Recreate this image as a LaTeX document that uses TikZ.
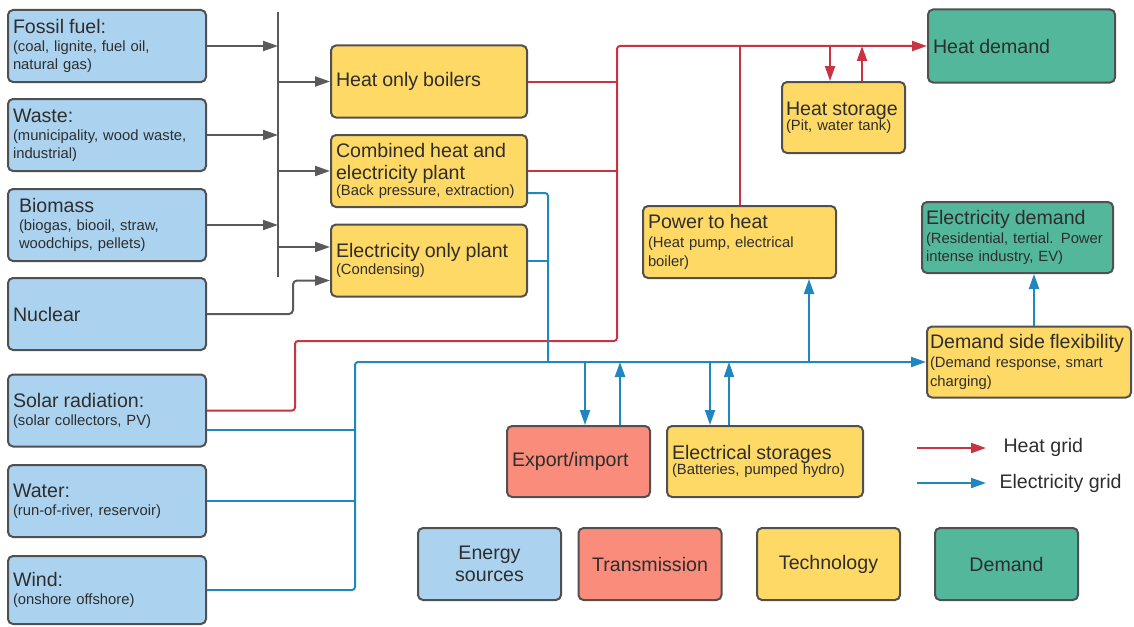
\documentclass[tikz,border=0pt]{standalone}
\usepackage{fontspec}
\setmainfont{Liberation Sans}
\usetikzlibrary{arrows.meta}
\definecolor{srcfill}{HTML}{ABD3EF}
\definecolor{techfill}{HTML}{FFD966}
\definecolor{transfill}{HTML}{F98C7B}
\definecolor{demfill}{HTML}{52B79B}
\definecolor{edge}{HTML}{505050}
\definecolor{ink}{HTML}{2E2E2E}
\definecolor{heatred}{HTML}{C73443}
\definecolor{elecblue}{HTML}{1F87BE}
\definecolor{feedgray}{HTML}{5A5A5A}
\newcommand{\hd}{\fontsize{19.6}{22}\selectfont}
\newcommand{\sm}{\fontsize{14.8}{18}\selectfont}
\begin{document}
\begin{tikzpicture}[x=1pt,y=-1pt,
  box/.style={draw=edge, line width=2pt, rounded corners=5pt, inner xsep=5pt, inner ysep=2pt, align=left, text=ink, font=\sm, minimum height=72pt},
  src/.style={box, fill=srcfill, minimum width=198pt, text width=188pt},
  tech/.style={box, fill=techfill},
  trans/.style={box, fill=transfill},
  dem/.style={box, fill=demfill},
  key/.style={box, align=center, font=\hd, minimum width=143pt, text width=133pt},
  feed/.style={draw=feedgray, line width=2pt},
  heat/.style={draw=heatred, line width=2pt},
  elec/.style={draw=elecblue, line width=2pt},
  >={Triangle[length=15pt,width=10pt]}]
\useasboundingbox (0,0) rectangle (1134,626);

% energy sources
\node[src] (fossil) at (107,46) {{\hd Fossil fuel:}\\(coal, lignite, fuel oil,\\natural gas)};
\node[src] (waste) at (107,135) {{\hd Waste:}\\(municipality, wood waste,\\industrial)};
\node[src, text width=176pt] (biomass) at (107,225) {{\hd Biomass}\\(biogas, biooil, straw,\\woodchips, pellets)};
\node[src] (nuclear) at (107,314) {{\hd Nuclear}};
\node[src] (solar) at (107,410.5) {{\hd Solar radiation:}\\(solar collectors, PV)};
\node[src] (water) at (107,501) {{\hd Water:}\\(run-of-river, reservoir)};
\node[src, minimum height=68pt] (wind) at (107,590) {{\hd Wind:}\\(onshore offshore)};

% technologies
\node[tech, minimum width=196pt, text width=186pt] (hob) at (429,81.5) {{\hd Heat only boilers}};
\node[tech, minimum width=196pt, text width=186pt] (chp) at (429,171) {\hd Combined heat and\\electricity plant\\[-2pt]{\sm (Back pressure, extraction)}};
\node[tech, minimum width=196pt, text width=186pt] (eop) at (429,260.5) {\hd Electricity only plant\\[-1pt]{\sm (Condensing)}};
\node[tech, minimum width=123pt, text width=115pt, inner xsep=4pt, minimum height=71pt] (hstor) at (843.5,117.5) {\hd Heat storage\\[-3pt]{\sm (Pit, water tank)}};
\node[tech, minimum width=193pt, text width=183pt] (p2h) at (739.5,242) {{\hd Power to heat}\\[1pt](Heat pump, electrical\\[1pt]boiler)};
\node[tech, minimum width=204pt, text width=198pt, inner xsep=3pt, minimum height=71pt] (dsf) at (1029,362) {{\hd Demand side flexibility}\\[1pt](Demand response, smart\\[1pt]charging)};
\node[tech, minimum width=196pt, text width=186pt, minimum height=71pt] (estor) at (765,461.5) {\hd Electrical storages\\[-3pt]{\sm (Batteries, pumped hydro)}};

% transmission and demand
\node[trans, minimum width=143pt, text width=133pt, minimum height=71pt] (expimp) at (578.5,461.5) {{\hd Export/import}};
\node[dem, minimum width=187pt, text width=177pt, minimum height=73pt] (hdem) at (1021.5,46) {{\hd Heat demand}};
\node[dem, minimum width=191pt, text width=183pt, inner xsep=4pt, minimum height=71pt] (edem) at (1017.5,237.5) {{\hd Electricity demand}\\[1pt](Residential, tertial. Power\\intense industry, EV)};

% colour key
\node[key, fill=srcfill] (kso) at (489.5,564) {Energy\\sources};
\node[key, fill=transfill] (ktr) at (650,564) {Transmission};
\node[key, fill=techfill] (kte) at (828.5,564) {Technology};
\node[key, fill=demfill] (kde) at (1006.5,564) {Demand};

% junction points
\coordinate (bus) at (278,12);
\coordinate (busend) at (278,277);
\coordinate (nbend) at (293,0);
\coordinate (rv) at (617,46);
\coordinate (rb) at (617,341);
\coordinate (rs) at (295,341);
\coordinate (ebus) at (355,362);
\coordinate (ev) at (548,362);
\coordinate (eopa) at ([yshift=13.5pt]eop.west);
\coordinate (eopb) at ([yshift=-20pt]eop.west);
\coordinate (chpb) at ([yshift=-22pt]chp.east);
\coordinate (solb) at ([yshift=-19pt]solar.east);
\coordinate (hsin) at ([xshift=-13.5pt]hstor.north);
\coordinate (hsout) at ([xshift=18.5pt]hstor.north);
\coordinate (pin) at ([xshift=69.5pt]p2h.south);
\coordinate (xin) at ([xshift=6.5pt]expimp.north);
\coordinate (xout) at ([xshift=41.5pt]expimp.north);
\coordinate (sin) at ([xshift=-55pt]estor.north);
\coordinate (sout) at ([xshift=-36pt]estor.north);
\coordinate (din) at ([xshift=5pt]dsf.north);

% fuel feeds
\draw[feed] (bus) -- (busend);
\foreach \s in {fossil,waste,biomass}
  \draw[feed,->] (\s.east) -- (\s.east -| bus);
\foreach \t in {hob,chp}
  \draw[feed,->] (\t.west -| bus) -- (\t.west);
\draw[feed,->] (eopa -| bus) -- (eopa);
\draw[feed,->,rounded corners=4pt] (nuclear.east) -- (nuclear.east -| nbend) |- (eopb);

% heat grid
\draw[heat,->,rounded corners=3pt] (solar.east) -- (solar.east -| rs) -- (rs) -- (rb) -- (rv) -- (hdem.west);
\draw[heat] (hob.east) -- (hob.east -| rv);
\draw[heat] (chp.east) -- (chp.east -| rv);
\draw[heat] (p2h.north) -- (p2h.north |- rv);
\draw[heat,->] (hsin |- rv) -- (hsin);
\draw[heat,->] (hsout) -- (hsout |- rv);

% electricity grid
\draw[elec,->,rounded corners=3pt] (wind.east) -- (wind.east -| ebus) -- (ebus) -- (dsf.west);
\draw[elec] (water.east) -- (water.east -| ebus);
\draw[elec] (solb) -- (solb -| ebus);
\draw[elec,rounded corners=3pt] (chpb) -- (chpb -| ev) -- (ev);
\draw[elec] (eop.east) -- (eop.east -| ev);
\draw[elec,->] (pin |- ebus) -- (pin);
\draw[elec,->] (xin |- ebus) -- (xin);
\draw[elec,->,line width=2.6pt] (xout) -- (xout |- ebus);
\draw[elec,->] (sin |- ebus) -- (sin);
\draw[elec,->,line width=1.5pt] (sout) -- (sout |- ebus);
\draw[elec,->] (din) -- (din |- edem.south);

% line key
\coordinate (lgh) at (917,448);
\coordinate (lge) at (917,483);
\node[anchor=west, font=\hd, text=ink] (lgheat) at (1000,447) {Heat grid};
\node[anchor=west, font=\hd, text=ink] (lgelec) at (996,483) {Electricity grid};
\draw[heat,->,shorten >=14pt] (lgh) -- (lgh -| lgheat.west);
\draw[elec,->,shorten >=10pt] (lge) -- (lge -| lgelec.west);
\end{tikzpicture}
\end{document}
